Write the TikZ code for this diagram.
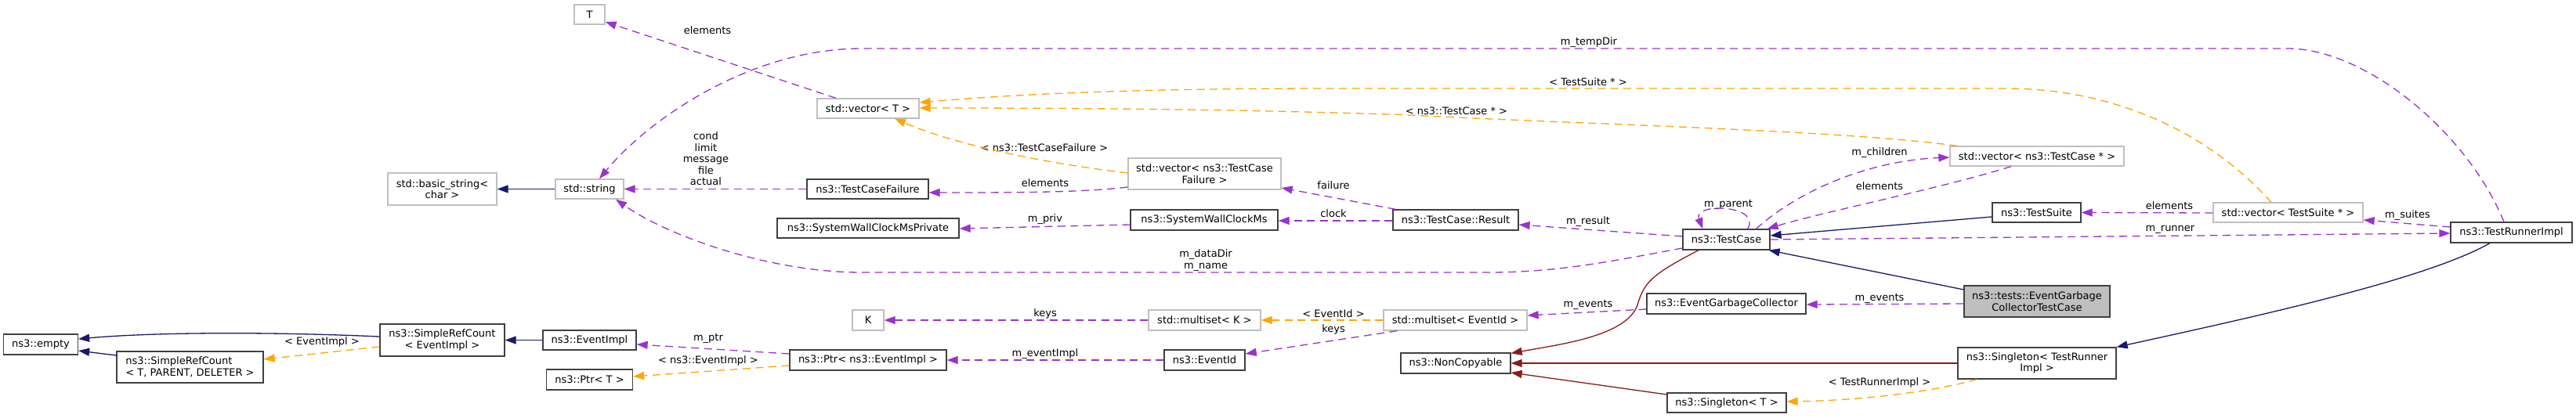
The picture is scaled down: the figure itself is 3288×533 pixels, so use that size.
\documentclass[tikz,border=0pt]{standalone}
\usepackage{fontspec}
\setmainfont{DejaVu Sans}
\newcommand*{\doxyfont}{\fontsize{13}{14.5}\selectfont}
\definecolor{member}{HTML}{9A32CD}
\definecolor{templ}{HTML}{FFA500}
\definecolor{pub}{HTML}{191970}
\definecolor{priv}{HTML}{8B1A1A}
\definecolor{undoc}{HTML}{BFBFBF}
\definecolor{doc}{HTML}{404040}
\usetikzlibrary{arrows.meta}
\usetikzlibrary{calc}
\tikzstyle{base}=[x=1pt, y=-1pt, font=\doxyfont, line width=1.3pt]
\tikzstyle{cls}=[draw=doc, fill=white, inner sep=0pt, align=center, text=black]
\tikzstyle{ext}=[cls, draw=undoc]
\tikzstyle{cur}=[cls, fill=undoc]
\tikzstyle{lbl}=[inner sep=0pt, align=center, text=black]
\tikzstyle{dxarrow}=[-{Triangle[length=14pt,width=10pt]}]
\tikzstyle{memb}=[dxarrow, member, dash pattern=on 10pt off 6.5pt]
\tikzstyle{inst}=[dxarrow, templ, dash pattern=on 10pt off 6.5pt]
\tikzstyle{inh}=[dxarrow, pub]
\tikzstyle{privinh}=[dxarrow, priv]

\begin{document}
\begin{tikzpicture}[base]
    \path [use as bounding box, fill=white] (0,0) rectangle (3288,533);
        \node [ext, minimum width=39pt, minimum height=25pt] (tT) at (752.5,18.5) {T};
        \node [ext, minimum width=139pt, minimum height=41pt] (tBasicString) at (564.5,241.5) {std::basic\_string<\\char >};
        \node [ext, minimum width=87pt, minimum height=25pt] (tString) at (752.5,241.5) {std::string};
        \node [ext, minimum width=130pt, minimum height=25pt] (tVecT) at (1108,138.5) {std::vector< T >};
        \node [cls, minimum width=155pt, minimum height=25pt] (tFailure) at (1107.5,241.5) {ns3::TestCaseFailure};
        \node [ext, minimum width=195pt, minimum height=40pt] (tVecFailure) at (1537.5,222) {std::vector< ns3::TestCase\\Failure >};
        \node [cls, minimum width=232pt, minimum height=25pt] (tClockPriv) at (1108,291.5) {ns3::SystemWallClockMsPrivate};
        \node [cls, minimum width=188pt, minimum height=26pt] (tClock) at (1537,281) {ns3::SystemWallClockMs};
        \node [cls, minimum width=160pt, minimum height=26pt] (tResult) at (1858,281) {ns3::TestCase::Result};
        \node [cls, minimum width=111pt, minimum height=26pt] (tCase) at (2203.5,306) {ns3::TestCase};
        \node [ext, minimum width=222pt, minimum height=25pt] (tVecCase) at (2600,199.5) {std::vector< ns3::TestCase * >};
        \node [cls, minimum width=113pt, minimum height=25pt] (tSuite) at (2599.5,271.5) {ns3::TestSuite};
        \node [ext, minimum width=191pt, minimum height=25pt] (tVecSuite) at (2920.5,271.5) {std::vector< TestSuite * >};
        \node [cls, minimum width=155pt, minimum height=26pt] (tRunner) at (3205.5,297) {ns3::TestRunnerImpl};
        \node [cur, minimum width=186pt, minimum height=40pt] (tGcTest) at (2600,385) {ns3::tests::EventGarbage\\CollectorTestCase};
        \node [cls, minimum width=203pt, minimum height=26pt] (tGc) at (2203.5,388) {ns3::EventGarbageCollector};
        \node [ext, minimum width=183pt, minimum height=26pt] (tSetId) at (1857.5,409) {std::multiset< EventId >};
        \node [ext, minimum width=143pt, minimum height=26pt] (tSetK) at (1537.5,409) {std::multiset< K >};
        \node [ext, minimum width=40pt, minimum height=26pt] (tK) at (1108,409) {K};
        \node [cls, minimum width=103pt, minimum height=26pt] (tId) at (1537.5,460) {ns3::EventId};
        \node [cls, minimum width=200pt, minimum height=26pt] (tPtrImpl) at (1108,460) {ns3::Ptr< ns3::EventImpl >};
        \node [cls, minimum width=119pt, minimum height=25pt] (tImpl) at (752.5,434.5) {ns3::EventImpl};
        \node [cls, minimum width=110pt, minimum height=26pt] (tPtrT) at (752.5,485) {ns3::Ptr< T >};
        \node [cls, minimum width=159pt, minimum height=41pt] (tRefImpl) at (564.5,434.5) {ns3::SimpleRefCount\\< EventImpl >};
        \node [cls, align=left, minimum width=187pt, minimum height=40pt] (tRefT) at (242.5,469) {ns3::SimpleRefCount\\< T, PARENT, DELETER >};
        \node [cls, minimum width=95pt, minimum height=26pt] (tEmpty) at (52,440) {ns3::empty};
        \node [cls, minimum width=140pt, minimum height=26pt] (tNoCopy) at (1858,464) {ns3::NonCopyable};
        \node [cls, minimum width=202pt, minimum height=40pt] (tSingRunner) at (2600,464) {ns3::Singleton< TestRunner\\Impl >};
        \node [cls, minimum width=152pt, minimum height=25pt] (tSingT) at (2204,514.5) {ns3::Singleton< T >};

        \node [lbl] (lElemT) at (903,39) {elements};
        \node [lbl] (lFields) at (901,203) {cond\\limit\\message\\file\\actual};
        \node [lbl] (lTempDir) at (2028,54) {m\_tempDir};
        \node [lbl] (lSuiteTmpl) at (2027,105) {< TestSuite * >};
        \node [lbl] (lCaseTmpl) at (1859,142) {< ns3::TestCase * >};
        \node [lbl] (lFailTmpl) at (1333,189) {< ns3::TestCaseFailure >};
        \node [lbl] (lElemFail) at (1334,234) {elements};
        \node [lbl] (lFailure) at (1702,237) {failure};
        \node [lbl] (lClock) at (1702,273) {clock};
        \node [lbl] (lPriv) at (1334,280) {m\_priv};
        \node [lbl] (lResult) at (2027,283) {m\_result};
        \node [lbl] (lDataDir) at (1539,332.5) {m\_dataDir\\m\_name};
        \node [lbl] (lChildren) at (2399,195) {m\_children};
        \node [lbl] (lElemCase) at (2399,238) {elements};
        \node [lbl] (lParent) at (2206,261) {m\_parent};
        \node [lbl] (lElemSuite) at (2769,263) {elements};
        \node [lbl] (lSuites) at (3073,275) {m\_suites};
        \node [lbl] (lRunner) at (2770,293) {m\_runner};
        \node [lbl] (lEventsA) at (2399,381) {m\_events};
        \node [lbl] (lEventsB) at (2027,389) {m\_events};
        \node [lbl] (lIdTmpl) at (1702,401) {< EventId >};
        \node [lbl] (lKeysId) at (1702,421) {keys};
        \node [lbl] (lKeysK) at (1334,401) {keys};
        \node [lbl] (lEventImpl) at (1334,452) {m\_eventImpl};
        \node [lbl] (lPtr) at (904,432) {m\_ptr};
        \node [lbl] (lImplTmpl) at (904,461) {< ns3::EventImpl >};
        \node [lbl] (lRefTmpl) at (411,437) {< EventImpl >};
        \node [lbl] (lRunnerTmpl) at (2399,489) {< TestRunnerImpl >};

        \draw [memb] ($(tVecT.north)+(-41,0)$) -- ($(tT.east)+(0,9.5)$);
        \draw [inh] (tString.west) -- (tBasicString.east);
        \draw [memb] (tFailure.west) -- (tString.east);
        \draw [memb] ($(tRunner.north)+(-9.5,0)$) .. controls (3150,170) and (3020,62) .. (2920,62)
            -- (1100,62) .. controls (960,62) and (830,150) .. ($(tString.north)+(12.5,0)$);
        \draw [memb] ($(tCase.west)+(0,11)$) .. controls (2060,333) and (1990,348) .. (1900,348)
            -- (1100,348) .. controls (980,348) and (850,300) .. ($(tString.south)+(33.5,0)$);
        \draw [inst] ($(tVecFailure.west)+(0,-1)$) .. controls (1330,208) and (1220,185) .. ($(tVecT.south)+(34,0)$);
        \draw [memb] ($(tVecFailure.west)+(0,17)$) .. controls (1380,246) and (1300,246) .. ($(tFailure.east)+(0,4.5)$);
        \draw [inst] ($(tVecCase.north west)+(10,0)$) .. controls (2350,166) and (2000,158) .. (1800,147)
            .. controls (1600,140) and (1400,138) .. ($(tVecT.east)+(0,-0.5)$);
        \draw [inst] ($(tVecSuite.north)+(-21.5,0)$) .. controls (2820,170) and (2700,113) .. (2560,113)
            -- (1700,113) .. controls (1450,113) and (1300,120) .. ($(tVecT.east)+(0,-7.5)$);
        \draw [memb] ($(tVecCase.south)+(-33,0)$) .. controls (2480,240) and (2330,270) .. ($(tCase.north east)+(-4,0)$);
        \draw [memb] ($(tCase.north)+(38,0)$) .. controls (2300,240) and (2390,205) .. ($(tVecCase.west)+(0,1.5)$);
        \draw [memb] ($(tCase.north)+(27,0)$) .. controls (2250,262) and (2160,258) .. ($(tCase.north)+(-30,0)$);
        \draw [memb] ($(tResult.north west)+(4,0)$) -- ($(tVecFailure.east)+(0,18)$);
        \draw [memb] ($(tResult.west)+(0,1)$) -- ($(tClock.east)+(0,1)$);
        \draw [memb] ($(tClock.west)+(0,6)$) -- ($(tClockPriv.east)+(0,0.5)$);
        \draw [memb] ($(tCase.west)+(0,-4)$) -- ($(tResult.east)+(0,6)$);
        \draw [inh] ($(tSuite.west)+(0,5.5)$) -- ($(tCase.east)+(0,-5)$);
        \draw [memb] ($(tVecSuite.west)+(0,0.5)$) -- (tSuite.east);
        \draw [memb] (tCase.east) -- ($(tRunner.west)+(0,1)$);
        \draw [memb] ($(tRunner.west)+(0,-7)$) -- ($(tVecSuite.east)+(0,9.5)$);
        \draw [inh] ($(tGcTest.west)+(0,-15)$) -- ($(tCase.south east)+(-2,0)$);
        \draw [memb] ($(tGcTest.west)+(0,3)$) -- ($(tGc.east)+(0,1)$);
        \draw [memb] ($(tGc.west)+(0,7)$) -- ($(tSetId.east)+(0,-6)$);
        \draw [inst] (tSetId.west) -- (tSetK.east);
        \draw [memb] ($(tSetId.south west)+(18,0)$) -- ($(tId.east)+(0,-8)$);
        \draw [memb] (tSetK.west) -- (tK.east);
        \draw [memb] (tId.west) -- (tPtrImpl.east);
        \draw [memb] ($(tPtrImpl.west)+(0,-8)$) -- ($(tImpl.east)+(0,5.5)$);
        \draw [inst] ($(tPtrImpl.west)+(0,7)$) -- ($(tPtrT.east)+(0,-4)$);
        \draw [inh] (tImpl.west) -- (tRefImpl.east);
        \draw [inh] ($(tRefImpl.west)+(0,-4.5)$) .. controls (350,424) and (200,424) .. ($(tEmpty.east)+(0,-7)$);
        \draw [inh] ($(tRefT.west)+(0,-15)$) -- ($(tEmpty.east)+(0,8)$);
        \draw [inst] ($(tRefImpl.west)+(0,8.5)$) -- ($(tRefT.east)+(0,-10)$);
        \draw [privinh] ($(tCase.south)+(-35.5,0)$) .. controls (2110,350) and (2098,360) .. (2090,390)
            .. controls (2075,430) and (1990,440) .. ($(tNoCopy.north east)+(0,1)$);
        \draw [privinh] (tSingRunner.west) -- (tNoCopy.east);
        \draw [privinh] ($(tSingT.west)+(0,-10.5)$) -- ($(tNoCopy.east)+(0,12)$);
        \draw [inh] ($(tRunner.south)+(-27.5,0)$) .. controls (3100,355) and (2900,400) .. (tSingRunner.north east);
        \draw [inst] ($(tSingRunner.south west)+(25,0)$) .. controls (2450,505) and (2350,512) .. ($(tSingT.east)+(0,-1.5)$);
\end{tikzpicture}
\end{document}
